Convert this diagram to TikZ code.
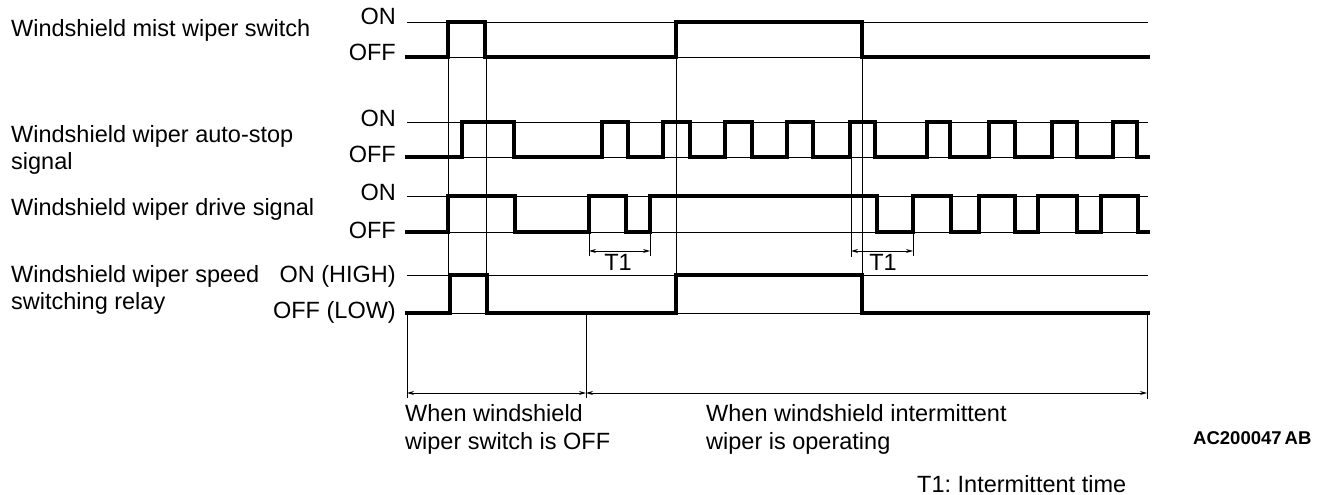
\documentclass[tikz,border=0pt]{standalone}
\usepackage{fontspec}
\setmainfont{Liberation Sans}
\usetikzlibrary{arrows.meta}
\frenchspacing
\begin{document}
\begin{tikzpicture}[x=1pt,y=-1pt,
  sig/.style={line width=3.2pt,line join=miter,line cap=rect},
  ref/.style={line width=0.9pt},
  guide/.style={line width=0.9pt},
  lbl/.style={inner sep=0pt,anchor=base west,font=\fontsize{23.5}{27}\selectfont},
  lvl/.style={inner sep=0pt,anchor=base east,font=\fontsize{23.5}{27}\selectfont},
  dim/.style={line width=0.9pt,{Stealth[length=7pt,width=4pt]}-{Stealth[length=7pt,width=4pt]}}]
\useasboundingbox (0,0) rectangle (1317,495);
% left labels
\node[lbl] (l1) at (11,36.5) {Windshield mist wiper switch};
\node[lbl] (l2a) at (11,142) {Windshield wiper auto-stop};
\node[lbl] (l2b) at (11,169) {signal};
\node[lbl] (l3) at (11,215) {Windshield wiper drive signal};
\node[lbl] (l4a) at (11,282) {Windshield wiper speed};
\node[lbl] (l4b) at (11,309) {switching relay};
% level labels
\node[lvl] (on1) at (396,25) {ON};
\node[lvl] (off1) at (396,60.5) {OFF};
\node[lvl] (on2) at (396,126) {ON};
\node[lvl] (off2) at (396,162) {OFF};
\node[lvl] (on3) at (396,200) {ON};
\node[lvl] (off3) at (396,238) {OFF};
\node[lvl] (on4) at (396,282) {ON (HIGH)};
\node[lvl] (off4) at (396,318) {OFF (LOW)};
% reference lines
\foreach \y in {22,57,122,157,196,232,275,313}
  \draw[ref] (407,\y) -- (1148,\y);
% guide lines
\foreach \x in {448,486,676,862}
  \draw[guide] (\x,22) -- (\x,313);
% signals
\draw[sig] (407,57) -| (448,22) -| (485,57) -| (676,22) -| (862,57) -- (1148,57);
\draw[sig] (407,157) -| (462,122) -| (514,157) -| (602,122) -| (628,157) -| (663,122) -| (690,157) -| (725,122) -| (752,157) -| (787,122) -| (813,157) -| (850,122) -| (875,157) -| (927,122) -| (950,157) -| (989,122) -| (1015,157) -| (1052,122) -| (1077,157) -| (1113,122) -| (1137,157) -- (1148,157);
\draw[sig] (407,232) -| (448,196) -| (515,232) -| (589,196) -| (626,232) -| (650,196) -| (877,232) -| (913,196) -| (951,232) -| (979,196) -| (1015,232) -| (1038,196) -| (1077,232) -| (1101,196) -| (1138,232) -- (1148,232);
\draw[sig] (407,313) -| (450,275) -| (487,313) -| (676,275) -| (862,313) -- (1148,313);
% T1 dimensions
\coordinate (a1) at (589,251);
\coordinate (b1) at (650,251);
\coordinate (a2) at (851,251);
\coordinate (b2) at (913,251);
\draw[guide] (589,232) -- (589,256);
\draw[guide] (650,232) -- (650,256);
\draw[guide] (851,157) -- (851,257);
\draw[guide] (913,232) -- (913,256);
\draw[dim] (a1) -- (b1);
\draw[dim] (a2) -- (b2);
\node[lvl,anchor=base] (t1a) at (618,270) {T1};
\node[lvl,anchor=base] (t1b) at (883,270) {T1};
% bottom dimensions
\coordinate (d0) at (407,393);
\coordinate (d1) at (586,393);
\coordinate (d2) at (1147,393);
\draw[guide] (407,313) -- (407,398);
\draw[guide] (586,313) -- (586,398);
\draw[guide] (1147,313) -- (1147,399);
\draw[dim] (d0) -- (d1);
\draw[dim] (d1) -- (d2);
\node[lbl] (w1a) at (405,421) {When windshield};
\node[lbl] (w1b) at (405,449) {wiper switch is OFF};
\node[lbl] (w2a) at (706,421) {When windshield intermittent};
\node[lbl] (w2b) at (706,449) {wiper is operating};
\node[inner sep=0pt,anchor=base west,font=\fontsize{18.5}{20}\selectfont\bfseries] (code) at (1193,444) {AC200047\,AB};
\node[lbl] (t1note) at (917,492) {T1: Intermittent time};
\end{tikzpicture}
\end{document}
